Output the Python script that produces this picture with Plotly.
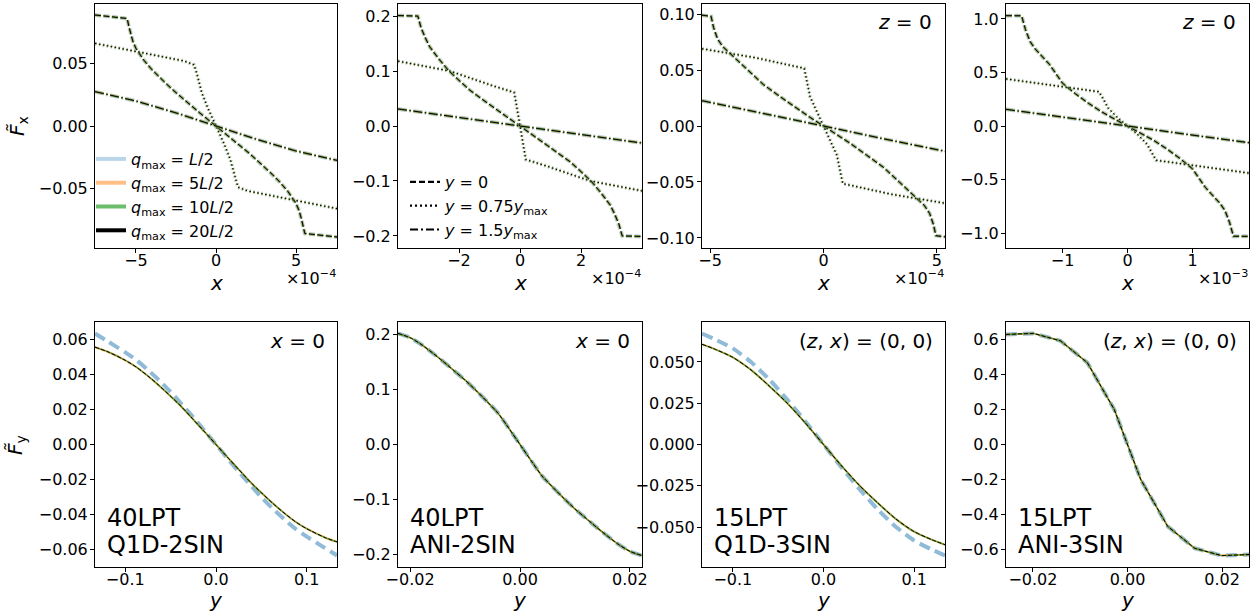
import plotly.graph_objects as go

W, H = 1260, 615

# ------------------------------------------------------------------
# DATA  (top row: F_x versus x, x in the axis units shown (x10^-4 / x10^-3))
# curve A: y = 0 ; curve B: y = 0.75 y_max ; curve C: y = 1.5 y_max
# ------------------------------------------------------------------
# panel 1  (40LPT Q1D-2SIN), x in 1e-4
p1_xA = [-7.56, -5.55, -5.45, -5.35, -5.2, -5.0, -4.5, -4.0, -3.5, -3.0, -2.5, -2.0, -1.5, -1.0, -0.5, 0.0,
         0.5, 1.0, 1.5, 2.0, 2.5, 3.0, 3.5, 4.0, 4.5, 5.0, 5.2, 5.35, 5.45, 5.55, 7.56]
p1_yA = [0.0888, 0.0860, 0.0800, 0.0750, 0.0680, 0.0620, 0.0525, 0.0450, 0.0385, 0.0325, 0.0267, 0.0210, 0.0155, 0.0103, 0.0051, 0.0,
         -0.0051, -0.0103, -0.0155, -0.0210, -0.0267, -0.0325, -0.0385, -0.0450, -0.0525, -0.0620, -0.0680, -0.0750, -0.0800, -0.0860, -0.0888]
p1_xB = [-7.56, -6.0, -4.0, -2.0, -1.375, -1.2, -0.9, -0.5, 0.0, 0.5, 0.9, 1.2, 1.375, 2.0, 4.0, 6.0, 7.56]
p1_yB = [0.0661, 0.0622, 0.0572, 0.0520, 0.0490, 0.0420, 0.0270, 0.0140, 0.0, -0.0140, -0.0270, -0.0420, -0.0490, -0.0520, -0.0572, -0.0622, -0.0661]
p1_xC = [-7.56, -5.0, -2.5, 0.0, 2.5, 5.0, 7.56]
p1_yC = [0.0275, 0.0200, 0.0105, 0.0, -0.0105, -0.0200, -0.0275]

# panel 2  (40LPT ANI-2SIN), x in 1e-4
p2_xA = [-4.0, -3.35, -3.3, -3.24, -3.1, -2.96, -2.66, -2.36, -2.0, -1.64, -1.25, -0.88, -0.44, 0.0,
         0.44, 0.88, 1.25, 1.64, 2.0, 2.36, 2.66, 2.96, 3.1, 3.24, 3.3, 3.35, 4.0]
p2_yA = [0.201, 0.200, 0.190, 0.178, 0.160, 0.144, 0.122, 0.102, 0.083, 0.065, 0.049, 0.034, 0.017, 0.0,
         -0.017, -0.034, -0.049, -0.065, -0.083, -0.102, -0.122, -0.144, -0.160, -0.178, -0.190, -0.200, -0.201]
p2_xB = [-4.0, -2.3, -0.88, -0.19, -0.10, 0.0, 0.10, 0.19, 0.88, 2.3, 4.0]
p2_yB = [0.118, 0.100, 0.073, 0.061, 0.033, 0.0, -0.033, -0.061, -0.073, -0.100, -0.118]
p2_xC = [-4.0, -2.0, 0.0, 2.0, 4.0]
p2_yC = [0.031, 0.0158, 0.0, -0.0158, -0.031]

# panel 3  (15LPT Q1D-3SIN), x in 1e-4
p3_xA = [-5.36, -4.96, -4.85, -4.68, -4.45, -4.19, -3.5, -2.65, -1.9, -1.18, -0.6, 0.0,
         0.6, 1.18, 1.9, 2.65, 3.5, 4.19, 4.45, 4.68, 4.85, 4.96, 5.36]
p3_yA = [0.099, 0.098, 0.088, 0.078, 0.071, 0.066, 0.053, 0.037, 0.026, 0.0155, 0.0078, 0.0,
         -0.0078, -0.0155, -0.026, -0.037, -0.053, -0.066, -0.071, -0.078, -0.088, -0.098, -0.099]
p3_xB = [-5.36, -3.0, -0.85, -0.59, 0.0, 0.59, 0.85, 3.0, 5.36]
p3_yB = [0.069, 0.061, 0.0515, 0.026, 0.0, -0.026, -0.0515, -0.061, -0.069]
p3_xC = [-5.36, -2.5, 0.0, 2.5, 5.36]
p3_yC = [0.0226, 0.0108, 0.0, -0.0108, -0.0226]

# panel 4  (15LPT ANI-3SIN), x in 1e-3
p4_xA = [-1.87, -1.63, -1.57, -1.50, -1.42, -1.35, -1.2, -1.0, -0.8, -0.6, -0.4, -0.2, 0.0,
         0.2, 0.4, 0.6, 0.8, 1.0, 1.2, 1.35, 1.42, 1.50, 1.57, 1.63, 1.87]
p4_yA = [1.031, 1.030, 0.90, 0.79, 0.72, 0.675, 0.575, 0.40, 0.30, 0.212, 0.133, 0.065, 0.0,
         -0.065, -0.133, -0.212, -0.30, -0.40, -0.575, -0.675, -0.72, -0.79, -0.90, -1.030, -1.031]
p4_xB = [-1.87, -0.44, -0.38, -0.30, -0.15, 0.0, 0.15, 0.30, 0.38, 0.44, 1.87]
p4_yB = [0.44, 0.32, 0.26, 0.17, 0.075, 0.0, -0.075, -0.17, -0.26, -0.32, -0.44]
p4_xC = [-1.87, -0.9, 0.0, 0.9, 1.87]
p4_yC = [0.156, 0.077, 0.0, -0.077, -0.156]

# ------------------------------------------------------------------
# DATA  (bottom row: F_y versus y at x = 0)
# "main" = q_max 5L/2, 10L/2, 20L/2 (coincide) ; "qL2" = q_max L/2
# ------------------------------------------------------------------
b1_y = [-0.1333, -0.12, -0.1, -0.0875, -0.075, -0.0625, -0.05, -0.0375, -0.025, -0.0125, 0.0,
        0.0125, 0.025, 0.0375, 0.05, 0.0625, 0.075, 0.0875, 0.1, 0.12, 0.1333]
b1_main = [0.0555, 0.0530, 0.0480, 0.0440, 0.0390, 0.0335, 0.0275, 0.0212, 0.0142, 0.0072, 0.0,
           -0.0072, -0.0142, -0.0212, -0.0275, -0.0335, -0.0390, -0.0440, -0.0480, -0.0530, -0.0555]
b1_qL2 = [0.0632, 0.0590, 0.0525, 0.0480, 0.0425, 0.0365, 0.0300, 0.0228, 0.0155, 0.0078, 0.0,
          -0.0078, -0.0155, -0.0228, -0.0300, -0.0365, -0.0425, -0.0480, -0.0525, -0.0590, -0.0632]

b2_y = [-0.0222, -0.020, -0.018, -0.016, -0.014, -0.012, -0.010, -0.008, -0.006, -0.004, -0.002, 0.0,
        0.002, 0.004, 0.006, 0.008, 0.010, 0.012, 0.014, 0.016, 0.018, 0.020, 0.0222]
b2_main = [0.2018, 0.194, 0.182, 0.167, 0.151, 0.134, 0.117, 0.098, 0.078, 0.057, 0.029, 0.0,
           -0.029, -0.057, -0.078, -0.098, -0.117, -0.134, -0.151, -0.167, -0.182, -0.194, -0.2018]
b2_qL2 = b2_main

b3_y = [-0.134, -0.12, -0.1, -0.08, -0.06, -0.04, -0.02, 0.0, 0.02, 0.04, 0.06, 0.08, 0.1, 0.12, 0.134]
b3_main = [0.0607, 0.0578, 0.0528, 0.0452, 0.0355, 0.0250, 0.0130, 0.0,
           -0.0130, -0.0250, -0.0355, -0.0452, -0.0528, -0.0578, -0.0607]
b3_qL2 = [0.0672, 0.0638, 0.0582, 0.0500, 0.0395, 0.0272, 0.0140, 0.0,
          -0.0140, -0.0272, -0.0395, -0.0500, -0.0582, -0.0638, -0.0672]

b4_y = [-0.0257, -0.0199, -0.0142, -0.0085, -0.0028, 0.0028, 0.0085, 0.0142, 0.0199, 0.0257]
b4_main = [0.628, 0.634, 0.592, 0.467, 0.200, -0.200, -0.467, -0.592, -0.634, -0.628]
b4_qL2 = b4_main

# ------------------------------------------------------------------
# TICKS / LABELS
# ------------------------------------------------------------------
top_xticks = [[-5, 0, 5], [-2, 0, 2], [-5, 0, 5], [-1, 0, 1]]
top_xtext = [["−5", "0", "5"], ["−2", "0", "2"], ["−5", "0", "5"], ["−1", "0", "1"]]
top_yticks = [[-0.05, 0, 0.05], [-0.2, -0.1, 0, 0.1, 0.2], [-0.10, -0.05, 0, 0.05, 0.10], [-1, -0.5, 0, 0.5, 1]]
top_ytext = [["−0.05", "0.00", "0.05"], ["−0.2", "−0.1", "0.0", "0.1", "0.2"],
             ["−0.10", "−0.05", "0.00", "0.05", "0.10"], ["−1.0", "−0.5", "0.0", "0.5", "1.0"]]
top_offsets = ["×10<sup>−4</sup>", "×10<sup>−4</sup>", "×10<sup>−4</sup>", "×10<sup>−3</sup>"]

bot_xticks = [[-0.1, 0, 0.1], [-0.02, 0, 0.02], [-0.1, 0, 0.1], [-0.02, 0, 0.02]]
bot_xtext = [["−0.1", "0.0", "0.1"], ["−0.02", "0.00", "0.02"], ["−0.1", "0.0", "0.1"], ["−0.02", "0.00", "0.02"]]
bot_yticks = [[-0.06, -0.04, -0.02, 0, 0.02, 0.04, 0.06], [-0.2, -0.1, 0, 0.1, 0.2],
              [-0.05, -0.025, 0, 0.025, 0.05], [-0.6, -0.4, -0.2, 0, 0.2, 0.4, 0.6]]
bot_ytext = [["−0.06", "−0.04", "−0.02", "0.00", "0.02", "0.04", "0.06"],
             ["−0.2", "−0.1", "0.0", "0.1", "0.2"],
             ["−0.050", "−0.025", "0.000", "0.025", "0.050"],
             ["−0.6", "−0.4", "−0.2", "0.0", "0.2", "0.4", "0.6"]]

top_corner = [None, None, "<i>z</i> = 0", "<i>z</i> = 0"]
bot_corner = ["<i>x</i> = 0", "<i>x</i> = 0", "(<i>z</i>, <i>x</i>) = (0, 0)", "(<i>z</i>, <i>x</i>) = (0, 0)"]
bot_name1 = ["40LPT", "40LPT", "15LPT", "15LPT"]
bot_name2 = ["Q1D-2SIN", "ANI-2SIN", "Q1D-3SIN", "ANI-3SIN"]

q_labels = ["<i>q</i><sub>max</sub> = <i>L</i>/2", "<i>q</i><sub>max</sub> = 5<i>L</i>/2",
            "<i>q</i><sub>max</sub> = 10<i>L</i>/2", "<i>q</i><sub>max</sub> = 20<i>L</i>/2"]
ls_labels = ["<i>y</i> = 0", "<i>y</i> = 0.75<i>y</i><sub>max</sub>", "<i>y</i> = 1.5<i>y</i><sub>max</sub>"]

# ------------------------------------------------------------------
# STYLE / LAYOUT
# ------------------------------------------------------------------
FONT = "DejaVu Sans"
q_colors = ["rgba(31,119,180,0.30)", "rgba(255,127,14,0.50)", "rgba(44,160,44,0.70)", "black"]
q_widths = [4.0, 2.6, 1.8, 1.0]
ls_dash = ["6px,2.5px", "1.5px,2.5px", "9px,2.5px,1.5px,2.5px"]

col_l = [95, 398, 702, 1006]
col_r = [337, 642, 945, 1249]
top_t, top_b = 4, 248
bot_t, bot_b = 322, 567
top_xr = [7.56, 4.0, 5.36, 1.87]
top_yr = [0.0976, 0.222, 0.109, 1.14]
bot_xr = [0.1333, 0.0222, 0.134, 0.0257]
bot_yr = [0.0698, 0.2225, 0.0742, 0.699]
bot_shape = ["spline", "spline", "spline", "linear"]

top_data = [
    [(p1_xA, p1_yA), (p1_xB, p1_yB), (p1_xC, p1_yC)],
    [(p2_xA, p2_yA), (p2_xB, p2_yB), (p2_xC, p2_yC)],
    [(p3_xA, p3_yA), (p3_xB, p3_yB), (p3_xC, p3_yC)],
    [(p4_xA, p4_yA), (p4_xB, p4_yB), (p4_xC, p4_yC)],
]
bot_data = [(b1_y, b1_main, b1_qL2), (b2_y, b2_main, b2_qL2), (b3_y, b3_main, b3_qL2), (b4_y, b4_main, b4_qL2)]


def px(xp):
    return xp / W


def py(yp):
    return 1 - yp / H


fig = go.Figure()
layout = dict(width=W, height=H, margin=dict(l=0, r=0, t=0, b=0, autoexpand=False),
              paper_bgcolor="white", plot_bgcolor="white",
              font=dict(family=FONT, size=16, color="black"), showlegend=True)
annotations = []

axis_common = dict(showline=True, linecolor="black", linewidth=1, mirror=True, automargin=False,
                   ticks="outside", ticklen=4, tickwidth=1, tickcolor="black",
                   showgrid=False, zeroline=False, tickfont=dict(family=FONT, size=16, color="black"))

for i in range(4):
    it, ib = i + 1, i + 5
    for idx, (t, b, xr, yr, xt, xtt, yt, ytt) in (
        (it, (top_t, top_b, top_xr[i], top_yr[i], top_xticks[i], top_xtext[i], top_yticks[i], top_ytext[i])),
        (ib, (bot_t, bot_b, bot_xr[i], bot_yr[i], bot_xticks[i], bot_xtext[i], bot_yticks[i], bot_ytext[i])),
    ):
        layout[f"xaxis{idx}"] = dict(axis_common, domain=[px(col_l[i]), px(col_r[i])], anchor=f"y{idx}",
                                     range=[-xr, xr], tickvals=xt, ticktext=xtt, ticklabelstandoff=-6)
        layout[f"yaxis{idx}"] = dict(axis_common, domain=[py(b), py(t)], anchor=f"x{idx}",
                                     range=[-yr, yr], tickvals=yt, ticktext=ytt, ticklabelstandoff=-1)

    for ci, (xs, ys) in enumerate(top_data[i]):
        for qi in range(4):
            fig.add_trace(go.Scatter(x=xs, y=ys, mode="lines", xaxis=f"x{it}", yaxis=f"y{it}",
                                     line=dict(color=q_colors[qi], width=q_widths[qi], dash=ls_dash[ci]),
                                     showlegend=False, hoverinfo="skip"))
    ys_, main, ql2 = bot_data[i]
    shp = bot_shape[i]
    fig.add_trace(go.Scatter(x=ys_, y=ql2, mode="lines", xaxis=f"x{ib}", yaxis=f"y{ib}",
                             line=dict(color="rgba(31,119,180,0.5)", width=4, dash="11px,6px", shape=shp, smoothing=0.6),
                             showlegend=False, hoverinfo="skip"))
    fig.add_trace(go.Scatter(x=ys_, y=main, mode="lines", xaxis=f"x{ib}", yaxis=f"y{ib}",
                             line=dict(color="rgba(255,127,14,0.7)", width=2, shape=shp, smoothing=0.6),
                             showlegend=False, hoverinfo="skip"))
    fig.add_trace(go.Scatter(x=ys_, y=main, mode="lines", xaxis=f"x{ib}", yaxis=f"y{ib}",
                             line=dict(color="rgba(44,160,44,0.8)", width=1.4, shape=shp, smoothing=0.6),
                             showlegend=False, hoverinfo="skip"))
    fig.add_trace(go.Scatter(x=ys_, y=main, mode="lines", xaxis=f"x{ib}", yaxis=f"y{ib}",
                             line=dict(color="black", width=1, dash="4px,2px", shape=shp, smoothing=0.6),
                             showlegend=False, hoverinfo="skip"))

    cx = px((col_l[i] + col_r[i]) / 2)
    annotations.append(dict(x=cx, y=py(283), xref="paper", yref="paper", text="<i>x</i>", showarrow=False,
                            font=dict(size=20), xanchor="center", yanchor="middle"))
    annotations.append(dict(x=cx, y=py(600), xref="paper", yref="paper", text="<i>y</i>", showarrow=False,
                            font=dict(size=20), xanchor="center", yanchor="middle"))
    annotations.append(dict(x=px(col_r[i] + 1), y=py(277), xref="paper", yref="paper", text=top_offsets[i],
                            showarrow=False, font=dict(size=16), xanchor="right", yanchor="middle"))
    if top_corner[i]:
        annotations.append(dict(x=px(col_r[i] - 11), y=py(22), xref="paper", yref="paper", text=top_corner[i],
                                showarrow=False, font=dict(size=20), xanchor="right", yanchor="middle"))
    annotations.append(dict(x=px(col_r[i] - 10), y=py(341), xref="paper", yref="paper", text=bot_corner[i],
                            showarrow=False, font=dict(size=20), xanchor="right", yanchor="middle"))
    annotations.append(dict(x=px(col_l[i] + 10), y=py(518), xref="paper", yref="paper", text=bot_name1[i],
                            showarrow=False, font=dict(size=24), xanchor="left", yanchor="middle"))
    annotations.append(dict(x=px(col_l[i] + 10), y=py(545), xref="paper", yref="paper", text=bot_name2[i],
                            showarrow=False, font=dict(size=24), xanchor="left", yanchor="middle"))

annotations.append(dict(x=px(18), y=py(126), xref="paper", yref="paper", text="<i>F̃</i><sub>x</sub>",
                        showarrow=False, font=dict(size=20), textangle=-90, xanchor="center", yanchor="middle"))
annotations.append(dict(x=px(16), y=py(445), xref="paper", yref="paper", text="<i>F̃</i><sub>y</sub>",
                        showarrow=False, font=dict(size=20), textangle=-90, xanchor="center", yanchor="middle"))

for qi in range(4):
    fig.add_trace(go.Scatter(x=[None], y=[None], mode="lines", xaxis="x1", yaxis="y1", name=q_labels[qi],
                             line=dict(color=q_colors[qi], width=4), legend="legend"))
for li in range(3):
    fig.add_trace(go.Scatter(x=[None], y=[None], mode="lines", xaxis="x2", yaxis="y2", name=ls_labels[li],
                             line=dict(color="black", width=2.2, dash=["6px,3px", "2px,3px", "8px,3px,2px,3px"][li]),
                             legend="legend2"))

layout["legend"] = dict(x=px(91), y=py(142), xanchor="left", yanchor="top", bgcolor="rgba(0,0,0,0)",
                        font=dict(size=16, family=FONT), itemwidth=30, tracegroupgap=0)
layout["legend2"] = dict(x=px(405), y=py(165), xanchor="left", yanchor="top", bgcolor="rgba(0,0,0,0)",
                         font=dict(size=16, family=FONT), itemwidth=30, tracegroupgap=0)
layout["annotations"] = annotations
fig.update_layout(**layout)

fig.write_html("out.html")
